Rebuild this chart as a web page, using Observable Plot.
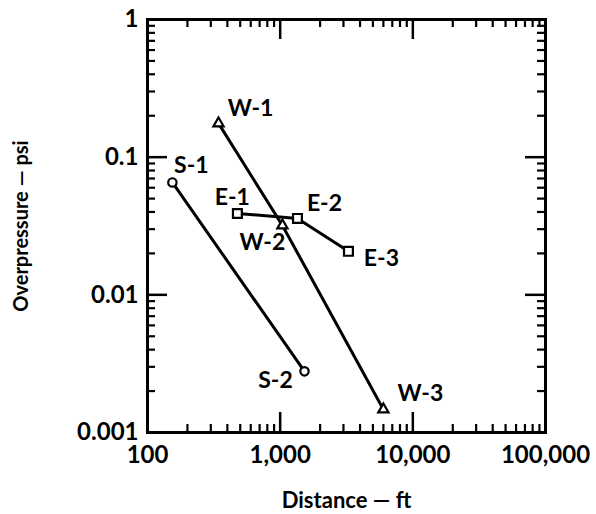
<!DOCTYPE html>
<html>
<head>
<meta charset="utf-8">
<script src="https://cdn.jsdelivr.net/npm/d3@7"></script>
<script src="https://cdn.jsdelivr.net/npm/@observablehq/plot@0.6"></script>
<style>
  html, body { margin: 0; padding: 0; background: #fff; }
  svg { display: block; }
</style>
</head>
<body>
<div id="chart"></div>
<script>
// Data
const pointLabels = ["S-1", "S-2", "W-1", "W-2", "W-3", "E-1", "E-2", "E-3"];
const pointSeries = ["S", "S", "W", "W", "W", "E", "E", "E"];
const distanceFt = [154, 1525, 343, 1040, 6000, 476, 1350, 3270];
const overpressurePsi = [0.0655, 0.00278, 0.176, 0.0319, 0.00147, 0.039, 0.0359, 0.0207];

const xTickValues = [100, 1000, 10000, 100000];
const yTickValues = [0.001, 0.01, 0.1, 1];
const yTickLabels = ["0.001", "0.01", "0.1", "1"];

// label placement (screen offsets)
const labelOffsets = {
  "S-1": [19, -17], "S-2": [-29, 9], "W-1": [32, -15], "W-2": [-20, 17],
  "W-3": [37, -16], "E-1": [-5, -16], "E-2": [27, -15], "E-3": [33, 7]
};

const data = pointLabels.map((label, i) => ({
  label, series: pointSeries[i], x: distanceFt[i], y: overpressurePsi[i],
  dx: labelOffsets[label][0], dy: labelOffsets[label][1]
}));

function minorTicks(lo, hi) {
  const out = [];
  for (let d = lo; d < hi; d *= 10) for (let k = 2; k <= 9; k++) out.push(d * k);
  return out;
}
const xMinor = minorTicks(100, 100000);
const yMinor = minorTicks(0.001, 1);

const W = 596, H = 514;
const mL = 147, mR = 51, mT = 19, mB = 82;
const fw = W - mL - mR, fh = H - mT - mB;
const majorLen = 20, minorLen = 8;
const font = "Lato, 'Noto Sans', sans-serif";

const tickMarks = [
  Plot.tickX(xTickValues, {insetTop: fh - majorLen, stroke: "#000", strokeWidth: 2.5}),
  Plot.tickX(xMinor, {insetTop: fh - minorLen, stroke: "#000", strokeWidth: 2.2}),
  Plot.tickX(xTickValues, {insetBottom: fh - majorLen, stroke: "#000", strokeWidth: 2.5}),
  Plot.tickX(xMinor, {insetBottom: fh - minorLen, stroke: "#000", strokeWidth: 2.2}),
  Plot.tickY(yTickValues, {insetRight: fw - majorLen, stroke: "#000", strokeWidth: 2.5}),
  Plot.tickY(yMinor, {insetRight: fw - minorLen, stroke: "#000", strokeWidth: 2.2}),
  Plot.tickY(yTickValues, {insetLeft: fw - majorLen, stroke: "#000", strokeWidth: 2.5}),
  Plot.tickY(yMinor, {insetLeft: fw - minorLen, stroke: "#000", strokeWidth: 2.2})
];

const labelRender = (index, scales, values, dims, ctx, next) => {
  const g = next(index, scales, values, dims, ctx);
  d3.select(g).selectAll("text").each(function(_, j) {
    const i = index[j];
    const d = data[i];
    d3.select(this).attr("transform", `translate(${values.x[i] + d.dx},${values.y[i] + d.dy})`);
  });
  return g;
};

const marks = [
  Plot.axisX({anchor: "bottom", ticks: xTickValues, tickSize: 0, tickPadding: 13,
    tickFormat: d3.format(","), fontSize: 24, label: null}),
  Plot.axisY({anchor: "left", ticks: yTickValues, tickSize: 0, tickPadding: 9,
    tickFormat: d => yTickLabels[yTickValues.indexOf(d)], fontSize: 24, label: null}),
  Plot.axisX({anchor: "bottom", ticks: [], label: "Distance — ft", labelAnchor: "center",
    labelArrow: "none", labelOffset: 75, fontSize: 22, letterSpacing: 2.8}),
  Plot.axisY({anchor: "left", ticks: [], label: "Overpressure — psi", labelAnchor: "center",
    labelArrow: "none", labelOffset: 134, fontSize: 20, letterSpacing: -0.3}),
  ...tickMarks,
  Plot.frame({stroke: "#000", strokeWidth: 3}),
  Plot.line(data, {x: "x", y: "y", z: "series", stroke: "#000", strokeWidth: 3}),
  Plot.dot(data.filter(d => d.series === "S"), {x: "x", y: "y", symbol: "circle", r: 4.2,
    fill: "#fff", stroke: "#000", strokeWidth: 2.2}),
  Plot.dot(data.filter(d => d.series === "W"), {x: "x", y: "y", symbol: "triangle", r: 3.8,
    fill: "#fff", stroke: "#000", strokeWidth: 2.2}),
  Plot.dot(data.filter(d => d.series === "E"), {x: "x", y: "y", symbol: "square", r: 5,
    fill: "#fff", stroke: "#000", strokeWidth: 2.2}),
  Plot.text(data, {x: "x", y: "y", text: "label", fontSize: 23, fontWeight: 700,
    letterSpacing: 0.5, render: labelRender})
];

const chart = Plot.plot({
  width: W,
  height: H,
  marginLeft: mL,
  marginRight: mR,
  marginTop: mT,
  marginBottom: mB,
  x: {type: "log", domain: [100, 100000]},
  y: {type: "log", domain: [0.001, 1]},
  style: {fontFamily: font, fontWeight: 700, color: "#000", background: "#fff"},
  marks
});
document.getElementById("chart").append(chart);
</script>
</body>
</html>
